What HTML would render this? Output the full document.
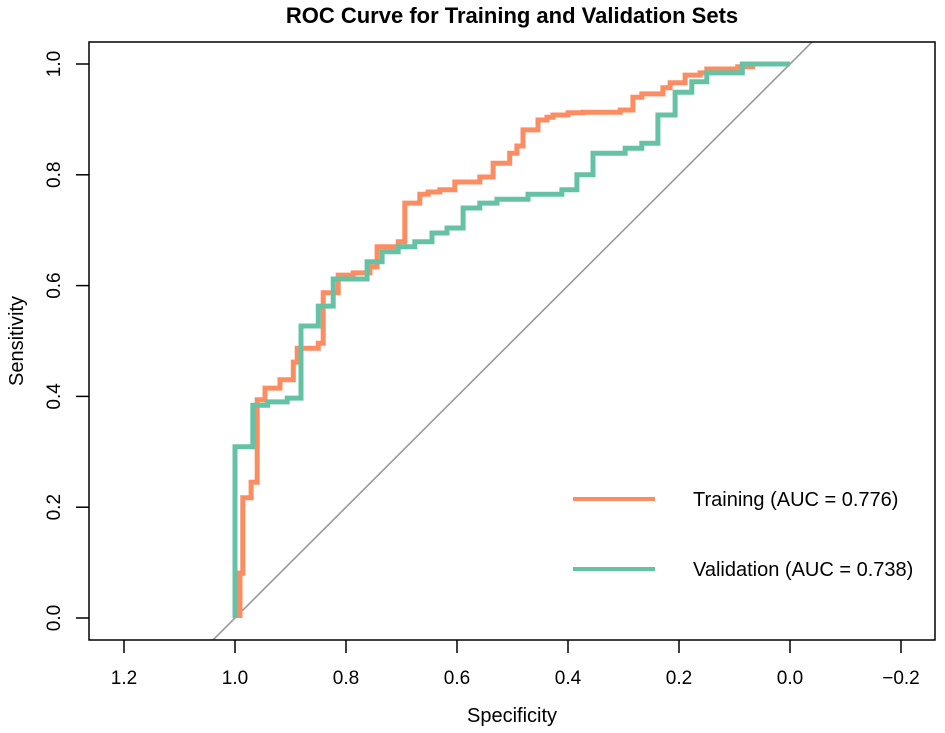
<!DOCTYPE html>
<html><head><meta charset="utf-8"><style>
html,body{margin:0;padding:0;background:#fff;}
svg{display:block;font-family:"Liberation Sans",Arial,sans-serif;}
</style></head><body>
<svg id="chart" width="945" height="733" viewBox="0 0 945 733">
<text x="512" y="23" text-anchor="middle" font-size="22" font-weight="bold">ROC Curve for Training and Validation Sets</text>
<defs><clipPath id="clip"><rect x="89" y="42" width="846" height="598"/></clipPath></defs>
<g id="series-layer" clip-path="url(#clip)"></g>
<rect x="89" y="42" width="846" height="598" fill="none" stroke="#000" stroke-width="1.5"/>
<g id="axis-layer"></g>
<text x="512" y="722" text-anchor="middle" font-size="20">Specificity</text>
<text transform="translate(23,341) rotate(-90)" text-anchor="middle" font-size="20">Sensitivity</text>
<g>
<line x1="573" y1="499" x2="655" y2="499" stroke="#FC8D62" stroke-width="4"/>
<text x="693" y="506" font-size="20">Training (AUC = 0.776)</text>
<line x1="573" y1="569" x2="655" y2="569" stroke="#66C2A5" stroke-width="4"/>
<text x="693" y="576" font-size="20">Validation (AUC = 0.738)</text>
</g>
</svg>
<script>
const xTicks=[1.2,1.0,0.8,0.6,0.4,0.2,0.0,-0.2];
const xTickLabels=["1.2","1.0","0.8","0.6","0.4","0.2","0.0","\u22120.2"];
const yTicks=[0,0.2,0.4,0.6,0.8,1.0];
const yTickLabels=["0.0","0.2","0.4","0.6","0.8","1.0"];
const trainSpec=[0.991,0.991,0.986,0.986,0.971,0.971,0.960,0.960,0.946,0.946,0.919,0.919,0.895,0.895,0.888,0.888,0.850,0.850,0.841,0.841,0.814,0.814,0.787,0.787,0.757,0.757,0.744,0.744,0.706,0.706,0.694,0.694,0.667,0.667,0.652,0.652,0.631,0.631,0.604,0.604,0.559,0.559,0.535,0.535,0.505,0.505,0.492,0.492,0.481,0.481,0.454,0.454,0.438,0.438,0.427,0.427,0.400,0.400,0.373,0.373,0.306,0.306,0.283,0.283,0.267,0.267,0.229,0.229,0.216,0.216,0.189,0.189,0.162,0.162,0.150,0.150,0.094,0.094,0.067,0.067,0];
const trainSens=[0,0.081,0.081,0.217,0.217,0.245,0.245,0.394,0.394,0.415,0.415,0.430,0.430,0.462,0.462,0.487,0.487,0.496,0.496,0.587,0.587,0.619,0.619,0.623,0.623,0.634,0.634,0.670,0.670,0.679,0.679,0.749,0.749,0.765,0.765,0.769,0.769,0.773,0.773,0.787,0.787,0.796,0.796,0.821,0.821,0.839,0.839,0.852,0.852,0.881,0.881,0.899,0.899,0.904,0.904,0.908,0.908,0.912,0.912,0.913,0.913,0.917,0.917,0.940,0.940,0.946,0.946,0.957,0.957,0.966,0.966,0.980,0.980,0.984,0.984,0.991,0.991,0.995,0.995,1,1];
const validSpec=[1,1,0.968,0.968,0.941,0.941,0.906,0.906,0.881,0.881,0.850,0.850,0.823,0.823,0.762,0.762,0.735,0.735,0.706,0.706,0.676,0.676,0.645,0.645,0.618,0.618,0.589,0.589,0.559,0.559,0.528,0.528,0.472,0.472,0.411,0.411,0.384,0.384,0.355,0.355,0.297,0.297,0.267,0.267,0.238,0.238,0.207,0.207,0.177,0.177,0.150,0.150,0.086,0.086,0];
const validSens=[0,0.309,0.309,0.384,0.384,0.390,0.390,0.397,0.397,0.527,0.527,0.563,0.563,0.612,0.612,0.643,0.643,0.661,0.661,0.670,0.670,0.679,0.679,0.695,0.695,0.704,0.704,0.740,0.740,0.749,0.749,0.756,0.756,0.765,0.765,0.773,0.773,0.800,0.800,0.839,0.839,0.848,0.848,0.857,0.857,0.908,0.908,0.949,0.949,0.968,0.968,0.984,0.984,1,1];
const NS="http://www.w3.org/2000/svg";
function xs(v){return 790-v*555;}
function ys(v){return 618-v*554;}
function mk(tag,attrs,parent){const e=document.createElementNS(NS,tag);for(const k in attrs)e.setAttribute(k,attrs[k]);parent.appendChild(e);return e;}
const axis=document.getElementById('axis-layer');
const series=document.getElementById('series-layer');
xTicks.forEach((t,i)=>{
  const l=mk('line',{x1:xs(t),x2:xs(t),y1:640,y2:653,stroke:'#000','stroke-width':1.5},axis);
  
  
  const tx=mk('text',{x:xs(t),y:684,'text-anchor':'middle','font-size':19},axis);
  tx.textContent=xTickLabels[i];
  
  
});
yTicks.forEach((t,i)=>{
  const l=mk('line',{x1:76,x2:89,y1:ys(t),y2:ys(t),stroke:'#000','stroke-width':1.5},axis);
  
  
  const tx=mk('text',{transform:`translate(60,${ys(t)}) rotate(-90)`,'text-anchor':'middle','font-size':19},axis);
  tx.textContent=yTickLabels[i];
  
  
});
const diag=mk('line',{x1:xs(1.1),y1:ys(-0.1),x2:xs(-0.1),y2:ys(1.1),stroke:'#999','stroke-width':1.6},series);


function curve(sp,se,color,name){
  const d=sp.map((s,i)=>(i?'L':'M')+xs(s).toFixed(1)+','+ys(se[i]).toFixed(1)).join(' ');
  const p=mk('path',{d:d,fill:'none',stroke:color,'stroke-width':5,'stroke-linejoin':'miter'},series);
  
  
}
curve(trainSpec,trainSens,'#FC8D62','training-roc-curve');
curve(validSpec,validSens,'#66C2A5','validation-roc-curve');
</script>
</body></html>
